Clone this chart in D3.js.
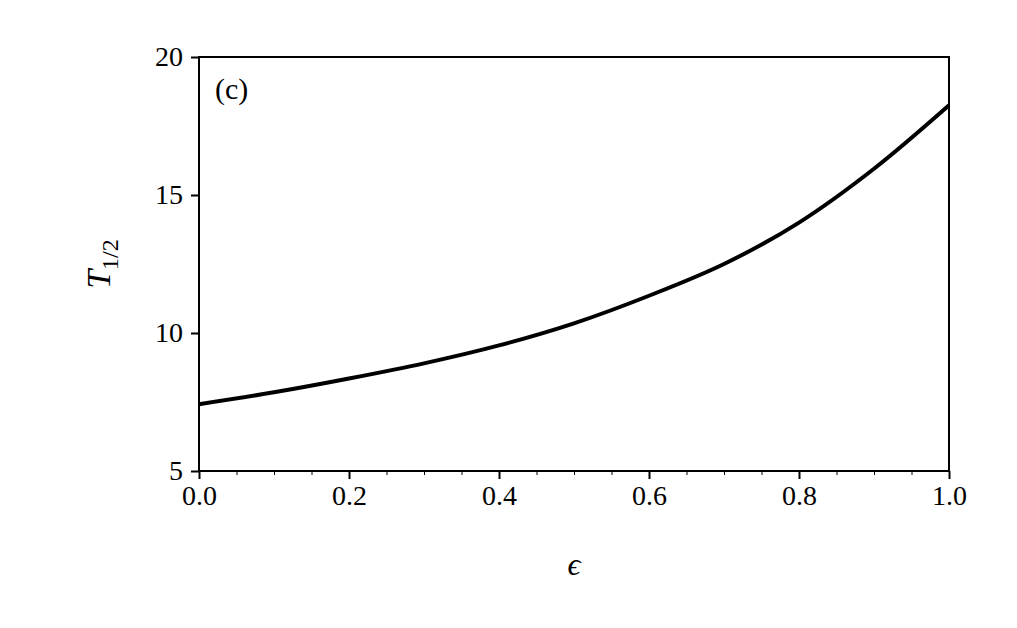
<!DOCTYPE html>
<html><head><meta charset="utf-8">
<script src="https://cdn.jsdelivr.net/npm/d3@7"></script>
<style>body{margin:0;background:#fff}text{font-family:"Liberation Serif","DejaVu Serif",serif}</style>
</head><body><div id="chart"></div>
<script>
// epsilon values and half-time
var eps = [0, 0.1, 0.2, 0.3, 0.4, 0.5, 0.6, 0.7, 0.8, 0.9, 1.0];
var thalf = [7.42, 7.85, 8.35, 8.9, 9.55, 10.35, 11.35, 12.5, 14.0, 15.95, 18.25];
var xTicks = [0, 0.2, 0.4, 0.6, 0.8, 1.0];
var yTicks = [5, 10, 15, 20];

var W = 1017, H = 628;
var margin = {top: 57, right: 68, bottom: 157, left: 199};
var width = W - margin.left - margin.right;
var height = H - margin.top - margin.bottom;

var svg = d3.select("#chart").append("svg").attr("width", W).attr("height", H);
var g = svg.append("g").attr("transform", "translate(" + margin.left + "," + margin.top + ")");

var x = d3.scaleLinear().domain([0, 1]).range([0, width]);
var y = d3.scaleLinear().domain([5, 20]).range([height, 0]);

// minor ticks
g.append("g").attr("transform", "translate(0," + height + ")")
    .call(d3.axisBottom(x).tickValues(d3.range(0, 1.0001, 0.05)).tickSize(4).tickFormat(""))
    .call(a => a.select(".domain").remove());

var xa = g.append("g").attr("transform", "translate(0," + height + ")")
    .call(d3.axisBottom(x).tickValues(xTicks).tickSize(8).tickPadding(6).tickFormat(d3.format(".1f")));
var ya = g.append("g")
    .call(d3.axisLeft(y).tickValues(yTicks).tickSize(8).tickPadding(8));
[xa, ya].forEach(function(a){
    a.selectAll("text").attr("font-size", 28).attr("fill", "#000").style("font-family", "'Liberation Serif',serif");
    a.selectAll("line").attr("stroke-width", 2);
    a.select(".domain").remove();
});

g.append("rect").attr("width", width).attr("height", height)
    .attr("fill", "none").attr("stroke", "#000").attr("stroke-width", 2);

g.append("path").datum(d3.zip(eps, thalf))
    .attr("fill", "none").attr("stroke", "#000").attr("stroke-width", 4)
    .attr("d", d3.line().x(d => x(d[0])).y(d => y(d[1])).curve(d3.curveCatmullRom));

g.append("text").attr("x", 16).attr("y", 42).attr("font-size", 30).text("(c)");

svg.append("text").attr("x", margin.left + width / 2).attr("y", 575)
    .attr("text-anchor", "middle").attr("font-size", 32).attr("font-style", "italic").text("ϵ");

var yl = svg.append("text").attr("transform", "translate(110," + (margin.top + height / 2) + ") rotate(-90)")
    .attr("text-anchor", "middle").attr("font-size", 34);
yl.append("tspan").attr("font-style", "italic").text("T");
yl.append("tspan").attr("font-size", 24).attr("dy", 8).text("1/2");
</script></body></html>
